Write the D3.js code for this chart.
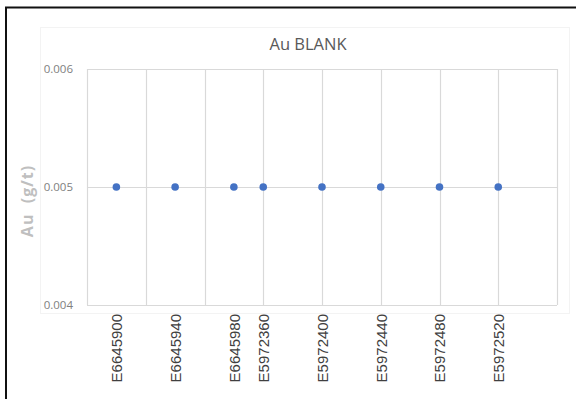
<!DOCTYPE html>
<html><head><meta charset="utf-8">
<script src="https://cdn.jsdelivr.net/npm/d3@7"></script>
<style>body{margin:0;background:#fff;}svg{display:block;font-family:"Open Sans",sans-serif;}</style>
</head><body>
<svg id="c" width="576" height="399"></svg>
<script>
const categories = ["E6645900","E6645940","E6645980","E5972360","E5972400","E5972440","E5972480","E5972520"];
const xPositions = [0.5, 1.5, 2.5, 3, 4, 5, 6, 7];
const values = [0.005,0.005,0.005,0.005,0.005,0.005,0.005,0.005];
const yTicks = [0.004, 0.005, 0.006];
const xGrid = [0,1,2,3,4,5,6,7,8];

const svg = d3.select("#c");
const x = d3.scaleLinear().domain([0,8]).range([87,557]);
const y = d3.scaleLinear().domain([0.004,0.006]).range([305,69]);

// faint chart area
svg.append("rect").attr("x",40.5).attr("y",27.5).attr("width",529).attr("height",286)
  .attr("fill","none").attr("stroke","#f3f3f3");

// outer black frame (top + left)
svg.append("path").attr("d","M6,399V7.5H576").attr("fill","none").attr("stroke","#111").attr("stroke-width",2);

// gridlines
svg.append("g").selectAll("line").data(xGrid).join("line")
  .attr("x1",d=>Math.round(x(d))+0.5).attr("x2",d=>Math.round(x(d))+0.5)
  .attr("y1",y(0.006)).attr("y2",y(0.004))
  .attr("stroke","#d9d9d9").attr("stroke-width",1.2);
svg.append("g").selectAll("line").data(yTicks).join("line")
  .attr("x1",x(0)).attr("x2",x(8))
  .attr("y1",d=>Math.round(y(d))+0.5).attr("y2",d=>Math.round(y(d))+0.5)
  .attr("stroke","#d9d9d9").attr("stroke-width",1.2);

// y axis ticks
const yAxis = d3.axisLeft(y).tickValues(yTicks).tickFormat(d3.format(".3f")).tickSize(0).tickPadding(14);
const gy = svg.append("g").attr("transform","translate(87,0)").call(yAxis);
gy.select(".domain").remove();
gy.selectAll("text").attr("fill","#808080").style("font-size","11.5px").style("font-family","Open Sans");

// x axis labels
const xAxis = d3.axisBottom(x).tickValues(xPositions).tickFormat((d,i)=>categories[i]).tickSize(0);
const gx = svg.append("g").attr("transform","translate(0,305)").call(xAxis);
gx.select(".domain").remove();
gx.selectAll("text").attr("fill","#404040").style("font-size","15px")
  .attr("transform","rotate(-90)").attr("text-anchor","end").attr("dy","0.35em").attr("x",-9).attr("y",0);

// points
svg.append("g").selectAll("circle").data(values).join("circle")
  .attr("cx",(d,i)=>x(xPositions[i])).attr("cy",d=>y(d)).attr("r",3.8).attr("fill","#4472c4");

// title
svg.append("text").attr("x",308).attr("y",50).attr("text-anchor","middle")
  .attr("fill","#595959").style("font-size","16.5px").text("Au BLANK");

// y label
svg.append("text").attr("transform","translate(33,201) rotate(-90)").attr("text-anchor","middle")
  .attr("fill","#bfbfbf").style("font-size","16px").style("font-weight","bold").style("letter-spacing","1px")
  .text("Au\u00a0\u00a0(g/t)");
</script>
</body></html>
